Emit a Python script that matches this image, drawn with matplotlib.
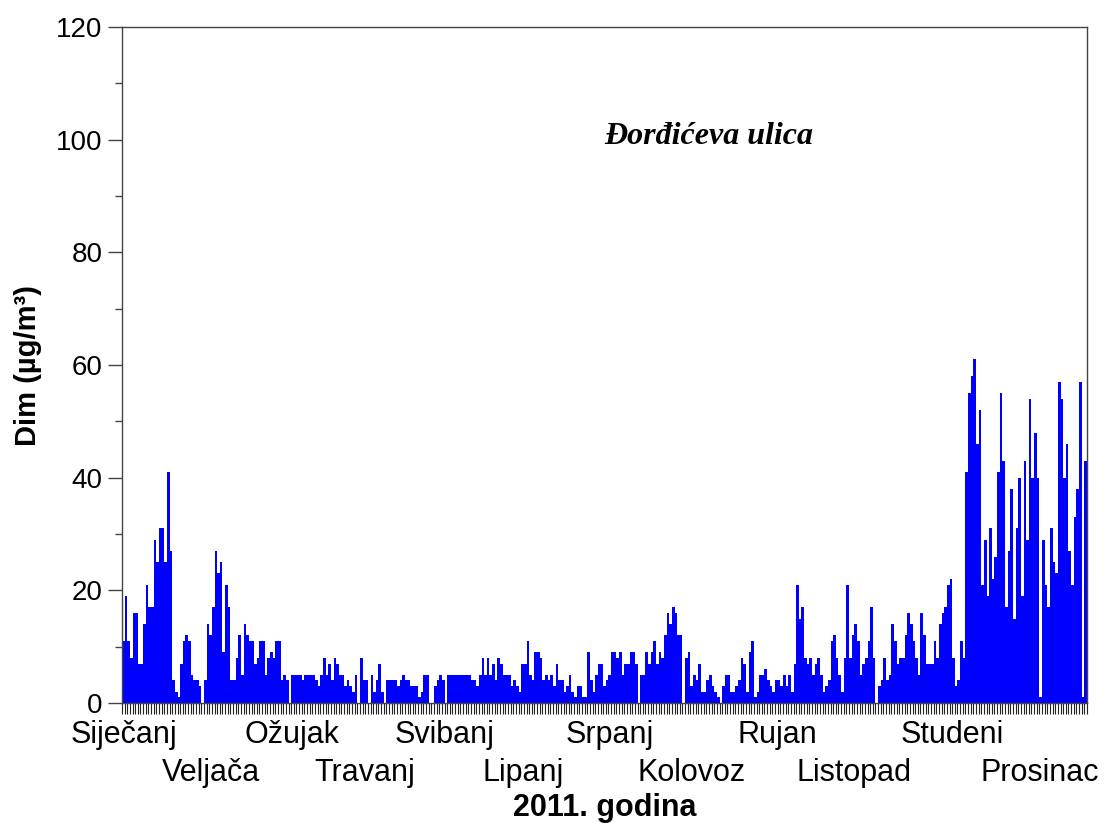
import numpy as np
import matplotlib
matplotlib.use('Agg')
import matplotlib.pyplot as plt
from matplotlib.ticker import MultipleLocator

# daily smoke values (ug/m3), 2011
jan = [11, 19, 11, 8, 16, 16, 7, 7, 14, 21, 17, 17, 29, 25, 31, 31, 25, 41, 27, 4,
       2, 1, 7, 11, 12, 11, 5, 4, 4, 3, 0]
feb_mar = [4, 14, 12, 17,
           27, 23, 25, 9, 21, 17, 4, 4, 8, 12,
           5, 14, 12, 11, 11, 7, 8, 11, 11, 5,
           8, 9, 8, 11, 11, 4, 5, 4, 0, 5,
           5, 5, 5, 4, 5, 5, 5, 5, 4, 3,
           5]
spring = [8, 5, 7, 4, 8, 7, 5, 5, 3, 4,
          3, 2, 5, 0, 8, 4, 4, 0, 5, 2,
          4, 7, 2, 0, 4, 4, 4, 4, 3, 4,
          5, 4, 4, 3, 3, 3, 1, 2, 5, 5,
          0, 0, 3, 4, 5, 4, 0, 5, 5, 5,
          5, 5, 5, 5, 5, 5, 4, 4, 3, 5,
          8, 5, 8, 5, 7, 4, 8, 7, 5, 5,
          5, 3, 4, 3, 2, 7, 7]
summer = [11, 5, 4, 9, 9, 8, 4, 5, 4, 5,
          3, 7, 4, 4, 2, 3, 5, 2, 1, 3,
          3, 1, 1, 9, 4, 2, 5, 7, 7, 3,
          4, 5, 9, 9, 8, 9, 5, 7, 7, 9,
          9, 7, 0, 5, 5, 9, 7, 9, 11, 7,
          9, 8, 12, 16, 14, 17, 16, 12, 12, 0,
          8, 9, 3, 5, 4, 7, 2, 2, 4, 5,
          3, 2, 1, 0, 3, 5, 5]
autumn = [2, 2, 3, 4, 8, 7, 2, 9, 11, 1,
          2, 5, 5, 6, 4, 3, 2, 4, 4, 3,
          5, 3, 5, 2, 7, 21, 15, 17, 8, 7,
          8, 5, 7, 8, 5, 2, 3, 4, 11, 12,
          8, 5, 2, 8, 21, 8, 12, 14, 11, 5,
          7, 8, 11, 17, 8, 0, 3, 4, 8, 4,
          5, 14, 11, 7, 8, 8, 12, 16, 14, 11,
          8, 5, 16, 12, 7, 7, 7]
winter = [11, 8, 14, 16, 17, 21, 22, 8, 3, 4,
          11, 8, 41, 55, 58, 61, 46, 52, 21, 29,
          19, 31, 22, 26, 41, 55, 43, 17, 27, 38,
          15, 31, 40, 19, 43, 29, 54, 40, 48, 40,
          1, 29, 21, 17, 31, 25, 23, 57, 54, 40,
          46, 27, 21, 33, 38, 57, 1, 43]

dim = np.array(jan + feb_mar + spring + summer + autumn + winter)
days = np.arange(len(dim))

months_top = ['Siječanj', 'Ožujak', 'Svibanj', 'Srpanj', 'Rujan', 'Studeni']
months_bottom = ['Veljača', 'Travanj', 'Lipanj', 'Kolovoz', 'Listopad', 'Prosinac']
# label centres, in days
pos_top = [0.6, 64.3, 122, 184.6, 248, 314]
pos_bottom = [33.7, 92, 151.7, 215.6, 277, 347]

plt.rcParams['font.family'] = ['Liberation Sans', 'DejaVu Sans']

fig = plt.figure(figsize=(11.04, 8.23), dpi=100)
ax = fig.add_axes([0.1105, 0.1458, 0.8741, 0.8214])

ax.bar(days, dim, width=1.0, align='edge', color='#0000ff', linewidth=0)

ax.set_xlim(0, len(dim))
ax.set_ylim(0, 120)

ax.yaxis.set_major_locator(MultipleLocator(20))
ax.yaxis.set_minor_locator(MultipleLocator(10))
ax.tick_params(axis='y', which='major', direction='out', length=10, width=1,
               labelsize=20, color='#444444', pad=4)
ax.tick_params(axis='y', which='minor', direction='out', length=5, width=1,
               color='#444444')

ax.set_xticks(np.arange(len(dim) + 1))
ax.tick_params(axis='x', which='major', direction='out', length=8, width=0.8,
               color='#222222', labelbottom=False)

for s in ax.spines.values():
    s.set_color('#444444')
    s.set_linewidth(1)

tr = ax.get_xaxis_transform()
for lab, p in zip(months_top, pos_top):
    ax.text(p, -0.048, lab, transform=tr, ha='center', va='center', fontsize=22)
for lab, p in zip(months_bottom, pos_bottom):
    ax.text(p, -0.103, lab, transform=tr, ha='center', va='center', fontsize=22)

ax.text(0.5, -0.155, '2011. godina', transform=ax.transAxes, ha='center', va='center',
        fontsize=22, fontweight='bold')
ax.set_ylabel('Dim (µg/m³)', fontsize=21, fontweight='bold', labelpad=10)

ax.text(222, 100.5, 'Đorđićeva ulica', ha='center', va='center', fontsize=23,
        fontweight='bold', fontstyle='italic', family=['Liberation Serif', 'DejaVu Serif'])

fig.savefig('out.png', dpi=100)
